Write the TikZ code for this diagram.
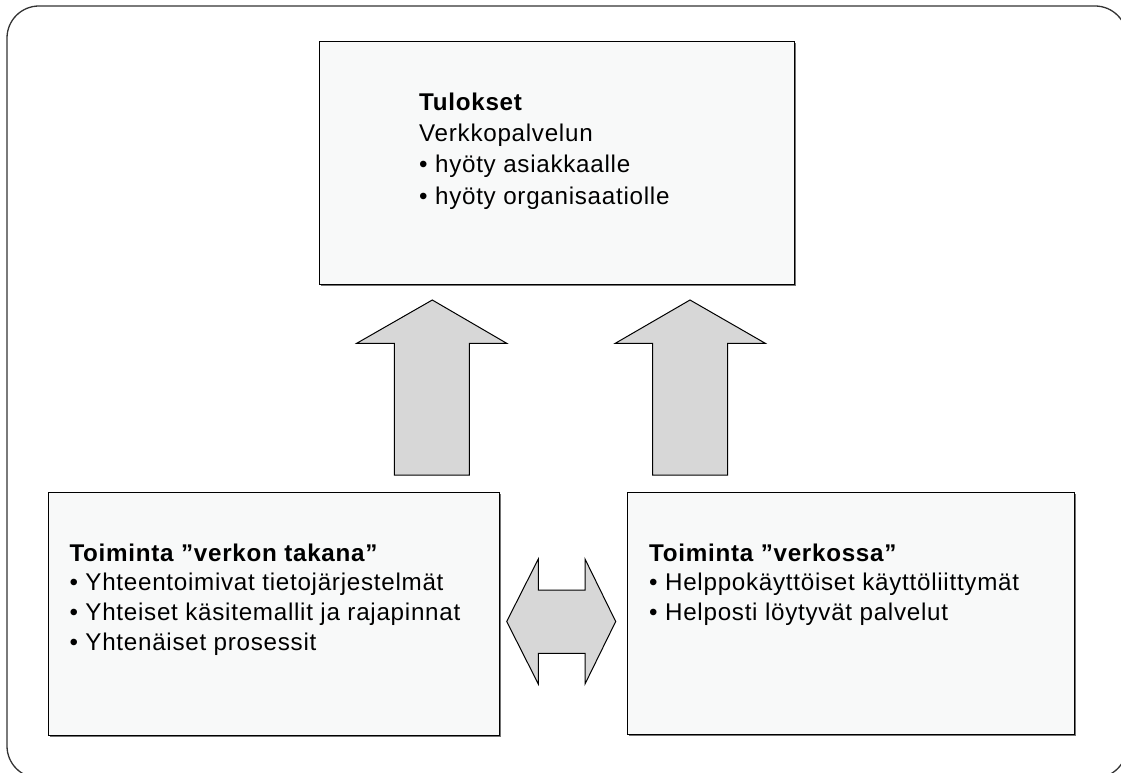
\documentclass[tikz,border=0pt]{standalone}
\usepackage{fontspec}
\setmainfont{Liberation Sans}[LetterSpace=3]
\usetikzlibrary{shadows}
\definecolor{boxfill}{HTML}{F8F9F9}
\definecolor{arrowfill}{HTML}{D7D7D7}
\definecolor{framecol}{HTML}{333333}

\begin{document}
\begin{tikzpicture}[x=1pt,y=-1pt,
  panel/.style={draw=black, line width=1.1pt, fill=boxfill, inner sep=0pt,
    anchor=north west,
    drop shadow={shadow xshift=1.4pt, shadow yshift=-1.4pt, fill=black!55, opacity=1}},
  blockarrow/.style={draw=black, line width=1pt, fill=arrowfill, line join=miter},
  label/.style={anchor=north west, inner sep=0pt, align=left},
  toptxt/.style={label, font=\fontsize{24.2}{31.3}\selectfont},
  bottxt/.style={label, font=\fontsize{24.2}{29.7}\selectfont}]

\useasboundingbox (0,0) rectangle (1121,773);

% outer rounded frame, running past the page edge on the right and bottom
\begin{scope}
  \clip (0,0) rectangle (1121,773);
  \draw[framecol, line width=1.3pt, rounded corners=32pt] (7,6) rectangle (1127,778);
\end{scope}

% the three panels
\node[panel, minimum width=475pt, minimum height=243pt] (results) at (319,41) {};
\node[panel, minimum width=450.7pt, minimum height=242.7pt] (behind) at (48.3,492.3) {};
\node[panel, minimum width=446.7pt, minimum height=242pt] (online) at (627.3,492) {};

% panel texts
\node[toptxt] (resultstext) at (419,88)
  {\rule{0pt}{22pt}\textbf{Tulokset}\\Verkkopalvelun\\• hyöty asiakkaalle\\• hyöty organisaatiolle};
\node[bottxt] (behindtext) at (69.3,539)
  {\rule{0pt}{22pt}\textbf{Toiminta ”verkon takana”}\\• Yhteentoimivat tietojärjestelmät\\• Yhteiset käsitemallit ja rajapinnat\\• Yhtenäiset prosessit};
\node[bottxt] (onlinetext) at (649,539)
  {\rule{0pt}{22pt}\textbf{Toiminta ”verkossa”}\\• Helppokäyttöiset käyttöliittymät\\• Helposti löytyvät palvelut};

% block arrows
\draw[blockarrow] (432.3,300) -- (506.7,343.3) -- (469.3,343.3) -- (469.3,475)
  -- (394.3,475) -- (394.3,343.3) -- (356.7,343.3) -- cycle;
\draw[blockarrow] (690,300) -- (765.3,343.3) -- (727.7,343.3) -- (727.7,475)
  -- (652.7,475) -- (652.7,343.3) -- (615.3,343.3) -- cycle;
\draw[blockarrow] (538.3,559) -- (506.7,621.5) -- (538.3,684) -- (538.3,653.3)
  -- (585,653.3) -- (585,684) -- (615.7,621.5) -- (585,559) -- (585,590)
  -- (538.3,590) -- cycle;
\end{tikzpicture}
\end{document}
